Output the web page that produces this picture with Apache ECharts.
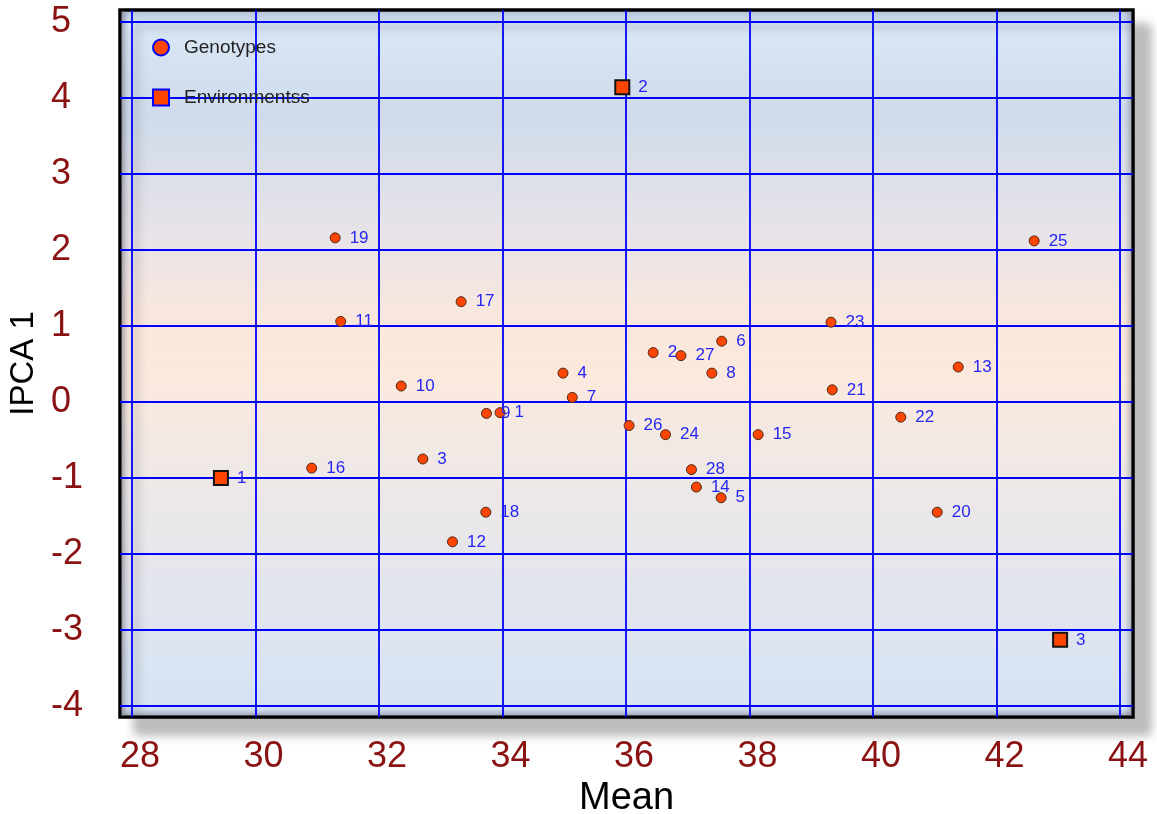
<!DOCTYPE html>
<html>
<head>
<meta charset="utf-8">
<script src="https://cdn.jsdelivr.net/npm/echarts@6/dist/echarts.min.js"></script>
<style>
  html, body { margin: 0; padding: 0; background: #ffffff; }
  #chart { width: 1157px; height: 814px; }
</style>
</head>
<body>
<div id="chart"></div>
<script>
// Genotype scores: mean yield (x) and first interaction PC (y)
const genoIds  = [19, 17, 11, 10, 4, 7, 9, 1, 16, 3, 18, 12, 26, 24, 28, 14, 5, 2, 27, 6, 8, 15, 23, 21, 22, 13, 20, 25];
const genoMean = [31.29, 33.33, 31.38, 32.36, 34.98, 35.13, 33.74, 33.96, 30.91, 32.71, 33.73, 33.19, 36.05, 36.64, 37.06, 37.14, 37.54, 36.44, 36.89, 37.55, 37.39, 38.14, 39.32, 39.34, 40.45, 41.38, 41.04, 42.61];
const genoIPCA = [2.16, 1.32, 1.06, 0.21, 0.38, 0.06, -0.15, -0.14, -0.87, -0.75, -1.45, -1.84, -0.31, -0.43, -0.89, -1.12, -1.26, 0.65, 0.61, 0.80, 0.38, -0.43, 1.05, 0.16, -0.20, 0.46, -1.45, 2.12];

// Environment scores
const envIds  = [1, 2, 3];
const envMean = [29.44, 35.94, 43.03];
const envIPCA = [-1.0, 4.14, -3.13];

// Axis tick values
const xTicks = [28, 30, 32, 34, 36, 38, 40, 42, 44];
const yTicks = [-4, -3, -2, -1, 0, 1, 2, 3, 4, 5];

const SANS = '"Liberation Sans", Arial, sans-serif';
const ORANGE = '#ff4500';
const LABEL_BLUE = '#2626f2';
const TICK_RED = '#8b1212';

const genoData = genoIds.map((id, i) => [genoMean[i], genoIPCA[i], id]);
const envData  = envIds.map((id, i) => [envMean[i], envIPCA[i], id]);

const chart = echarts.init(document.getElementById('chart'), null, { renderer: 'canvas' });

const W = 1157, H = 814;
const G = { left: 120, top: 10, right: 24, bottom: 97 };
const gx0 = G.left, gy0 = G.top, gx1 = W - G.right, gy1 = H - G.bottom;

chart.setOption({
  backgroundColor: '#ffffff',
  animation: false,
  grid: {
    left: G.left, top: G.top, right: G.right, bottom: G.bottom,
    containLabel: false,
    outerBoundsMode: 'none',
    show: true,
    borderColor: '#000000',
    borderWidth: 3.5,
    shadowColor: 'rgba(0,0,0,0.26)',
    shadowBlur: 10,
    shadowOffsetX: 16,
    shadowOffsetY: 16,
    backgroundColor: {
      type: 'linear', x: 0, y: 0, x2: 0, y2: 1,
      colorStops: [
        { offset: 0.00, color: '#a9b7cf' },
        { offset: 0.02, color: '#dbe8f8' },
        { offset: 0.05, color: '#d7e4f4' },
        { offset: 0.15, color: '#cfdbea' },
        { offset: 0.32, color: '#e8e3e8' },
        { offset: 0.45, color: '#fbe8dc' },
        { offset: 0.52, color: '#fbe9de' },
        { offset: 0.62, color: '#f1e9e4' },
        { offset: 0.78, color: '#e6e6ec' },
        { offset: 0.93, color: '#dae4f2' },
        { offset: 1.00, color: '#d5e2f2' }
      ]
    }
  },
  legend: {
    orient: 'vertical',
    left: 147,
    top: 33,
    itemWidth: 16,
    itemHeight: 16,
    itemGap: 31,
    selectedMode: false,
    textStyle: { color: '#222222', fontSize: 19, fontFamily: SANS, padding: [0, 0, 0, 10] },
    data: [
      { name: 'Genotypes', icon: 'circle', itemStyle: { color: ORANGE, borderColor: '#0000ff', borderWidth: 2 } },
      { name: 'Environmentss', icon: 'rect', itemStyle: { color: ORANGE, borderColor: '#0000ff', borderWidth: 2 } }
    ]
  },
  xAxis: {
    type: 'value',
    min: 27.8057,
    max: 44.2105,
    name: 'Mean',
    nameLocation: 'middle',
    nameGap: 53,
    nameTextStyle: { color: '#000000', fontSize: 38, fontFamily: SANS },
    axisLine: { show: false },
    axisTick: { show: false, customValues: xTicks },
    axisLabel: {
      customValues: xTicks,
      color: TICK_RED,
      fontSize: 36,
      fontFamily: SANS,
      margin: 22,
      padding: [0, 0, 0, 16]
    },
    splitLine: { show: true, lineStyle: { color: '#0000ff', width: 1.8 } }
  },
  yAxis: {
    type: 'value',
    min: -4.145,
    max: 5.158,
    name: 'IPCA 1',
    nameLocation: 'middle',
    nameGap: 66,
    nameTextStyle: { color: '#000000', fontSize: 33, fontFamily: SANS },
    axisLine: { show: false },
    axisTick: { show: false, customValues: yTicks },
    axisLabel: {
      customValues: yTicks,
      color: TICK_RED,
      fontSize: 36,
      fontFamily: SANS,
      margin: 69,
      align: 'left',
      padding: [10, 0, 0, 0]
    },
    splitLine: { show: true, lineStyle: { color: '#0000ff', width: 1.8 } }
  },
  graphic: [
    // inner bevel shading along the frame edges
    { type: 'rect', silent: true, z: 0, shape: { x: gx0 + 1, y: gy0 + 1, width: 8, height: gy1 - gy0 - 2 },
      style: { fill: { type: 'linear', x: 0, y: 0, x2: 1, y2: 0, colorStops: [
        { offset: 0, color: 'rgba(90,90,100,0.55)' }, { offset: 1, color: 'rgba(120,120,140,0)' } ] } } },
    { type: 'rect', silent: true, z: 0, shape: { x: gx1 - 9, y: gy0 + 1, width: 8, height: gy1 - gy0 - 2 },
      style: { fill: { type: 'linear', x: 0, y: 0, x2: 1, y2: 0, colorStops: [
        { offset: 0, color: 'rgba(120,120,140,0)' }, { offset: 1, color: 'rgba(90,90,100,0.4)' } ] } } },
    { type: 'rect', silent: true, z: 0, shape: { x: gx0 + 1, y: gy1 - 9, width: gx1 - gx0 - 2, height: 8 },
      style: { fill: { type: 'linear', x: 0, y: 0, x2: 0, y2: 1, colorStops: [
        { offset: 0, color: 'rgba(120,120,140,0)' }, { offset: 1, color: 'rgba(90,90,100,0.45)' } ] } } }
  ],
  series: [
    {
      name: 'Genotypes',
      type: 'scatter',
      data: genoData,
      symbol: 'circle',
      symbolSize: 10,
      z: 3,
      itemStyle: { color: ORANGE, borderColor: '#4a2a1a', borderWidth: 1, opacity: 1 },
      label: {
        show: true,
        position: 'right',
        distance: 9,
        formatter: p => String(p.value[2]),
        color: LABEL_BLUE,
        fontSize: 17,
        fontFamily: SANS
      },
      emphasis: { disabled: true }
    },
    {
      name: 'Environmentss',
      type: 'scatter',
      data: envData,
      symbol: 'rect',
      symbolSize: 14,
      z: 4,
      itemStyle: { color: ORANGE, borderColor: '#111111', borderWidth: 2, opacity: 1 },
      label: {
        show: true,
        position: 'right',
        distance: 8,
        formatter: p => String(p.value[2]),
        color: LABEL_BLUE,
        fontSize: 17,
        fontFamily: SANS
      },
      emphasis: { disabled: true }
    }
  ]
});
</script>
</body>
</html>
